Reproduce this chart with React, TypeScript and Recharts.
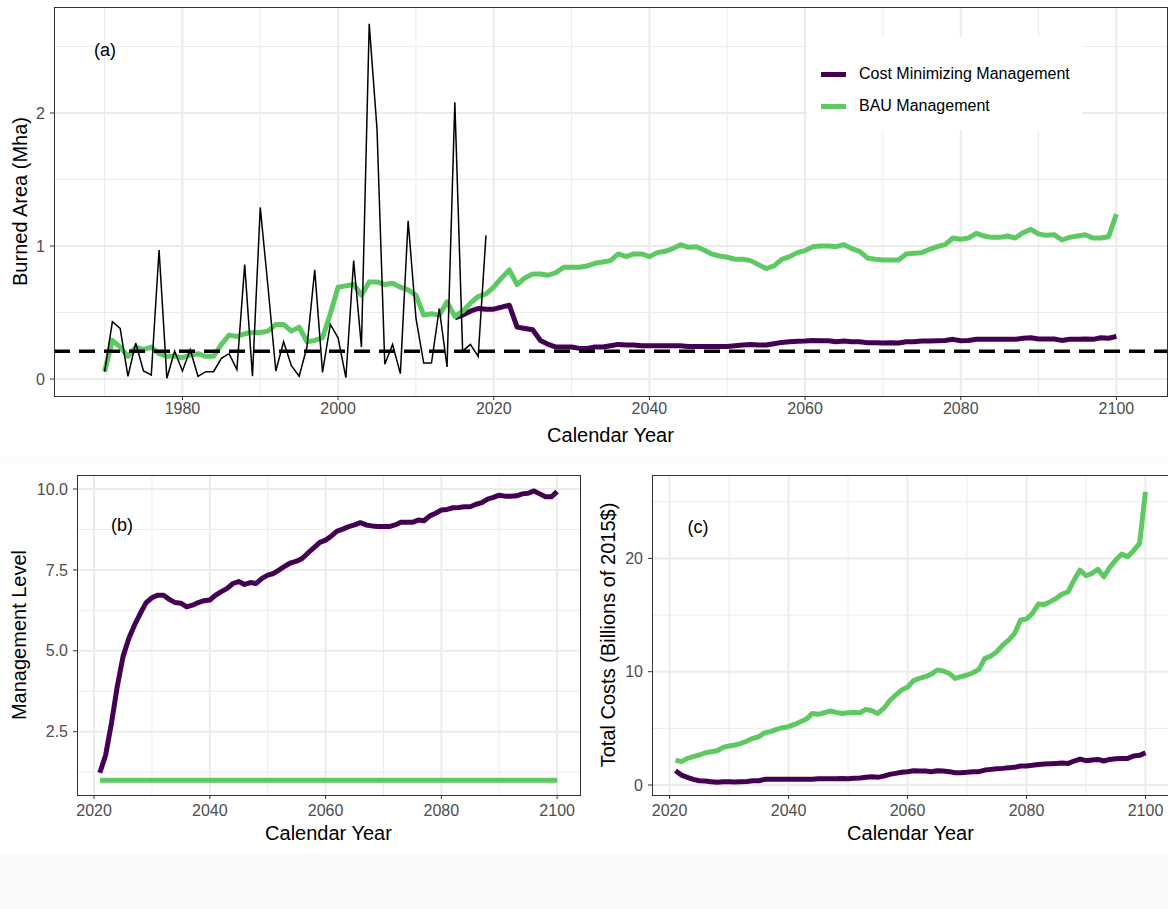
import React from 'react';
import { LineChart, Line, XAxis, YAxis, CartesianGrid, ReferenceLine, Legend, Label } from 'recharts';

const FONT = '"Liberation Sans", Arial, Helvetica, sans-serif';
const PURPLE = '#440154';
const GREEN = '#5ec962';
const GRID = '#ebebeb';
const TICK_COLOR = '#4d4d4d';
const BORDER = '#333333';

const COST_MIN_NAME = 'Cost Minimizing Management';
const BAU_NAME = 'BAU Management';
const legendOrder = [COST_MIN_NAME, BAU_NAME];

// Burned area (Mha): observed record, and the two management scenarios
const observedStart = 1970;
const observedBurned = [
  0.055, 0.43, 0.38, 0.02, 0.27, 0.06, 0.03, 0.97, 0.005, 0.21,
  0.06, 0.22, 0.02, 0.055, 0.055, 0.155, 0.19, 0.07, 0.86, 0.02,
  1.29, 0.69, 0.06, 0.28, 0.1, 0.02, 0.24, 0.82, 0.05, 0.41,
  0.31, 0.01, 0.89, 0.24, 2.67, 1.88, 0.11, 0.26, 0.04, 1.19,
  0.46, 0.12, 0.12, 0.53, 0.09, 2.08, 0.21, 0.26, 0.17, 1.08,
];

const bauStart = 1970;
const bauBurned = [
  0.055, 0.29, 0.24, 0.17, 0.24, 0.22, 0.24, 0.19, 0.17, 0.17,
  0.16, 0.18, 0.19, 0.17, 0.17, 0.26, 0.33, 0.32, 0.34, 0.35,
  0.35, 0.36, 0.41, 0.41, 0.36, 0.39, 0.28, 0.29, 0.31, 0.49,
  0.69, 0.7, 0.71, 0.63, 0.73, 0.73, 0.71, 0.72, 0.69, 0.67,
  0.63, 0.48, 0.49, 0.48, 0.58, 0.47, 0.51, 0.57, 0.62, 0.64,
  0.69, 0.76, 0.82, 0.71, 0.76, 0.79, 0.79, 0.78, 0.8, 0.84,
  0.84, 0.84, 0.85, 0.87, 0.88, 0.89, 0.94, 0.92, 0.94, 0.94,
  0.92, 0.95, 0.96, 0.98, 1.01, 0.99, 0.995, 0.97, 0.94, 0.925,
  0.915, 0.9, 0.9, 0.89, 0.86, 0.83, 0.85, 0.9, 0.92, 0.95,
  0.965, 0.995, 1.0, 1.0, 0.995, 1.01, 0.98, 0.96, 0.91, 0.9,
  0.895, 0.895, 0.895, 0.94, 0.945, 0.95, 0.975, 0.995, 1.01, 1.06,
  1.05, 1.06, 1.095, 1.075, 1.065, 1.065, 1.075, 1.06, 1.1, 1.125,
  1.09, 1.08, 1.085, 1.045, 1.065, 1.075, 1.085, 1.06, 1.06, 1.07,
  1.24,
];

const costMinStart = 2015;
const costMinBurned = [
  0.46, 0.48, 0.51, 0.53, 0.525,
  0.525, 0.54, 0.555, 0.39, 0.38, 0.37, 0.29, 0.26, 0.24, 0.24,
  0.24, 0.23, 0.23, 0.24, 0.24, 0.25, 0.26, 0.255, 0.255, 0.25,
  0.25, 0.25, 0.25, 0.25, 0.25, 0.245, 0.245, 0.245, 0.245, 0.245,
  0.245, 0.25, 0.255, 0.26, 0.255, 0.255, 0.265, 0.275, 0.28, 0.283,
  0.285, 0.29, 0.288, 0.288, 0.28, 0.285, 0.28, 0.28, 0.273, 0.273,
  0.27, 0.273, 0.27, 0.28, 0.28, 0.285, 0.285, 0.288, 0.29, 0.298,
  0.288, 0.29, 0.298, 0.298, 0.298, 0.298, 0.298, 0.298, 0.306, 0.31,
  0.3, 0.3, 0.3, 0.29, 0.298, 0.298, 0.3, 0.298, 0.31, 0.306,
  0.32,
];

const burnedThreshold = 0.208;

// Projections 2021-2100: management level and total costs (billions of 2015$)
const projectionStart = 2021;
const costMinManagement = [
  1.23, 1.78, 2.76, 3.89, 4.82, 5.38, 5.8, 6.16, 6.49,
  6.64, 6.72, 6.72, 6.59, 6.49, 6.47, 6.36, 6.41, 6.49, 6.55,
  6.57, 6.72, 6.83, 6.93, 7.08, 7.14, 7.05, 7.11, 7.08, 7.24,
  7.34, 7.39, 7.5, 7.62, 7.72, 7.77, 7.86, 8.03, 8.19, 8.35,
  8.42, 8.55, 8.7, 8.76, 8.84, 8.89, 8.96, 8.89, 8.86, 8.84,
  8.84, 8.84, 8.89, 8.97, 8.97, 8.97, 9.04, 9.02, 9.17, 9.25,
  9.35, 9.37, 9.42, 9.43, 9.45, 9.45, 9.53, 9.58, 9.69, 9.74,
  9.81, 9.78, 9.78, 9.79, 9.85, 9.87, 9.94, 9.85, 9.76, 9.76,
  9.92,
];
const bauManagement = [
  1, 1, 1, 1, 1, 1, 1, 1, 1,
  1, 1, 1, 1, 1, 1, 1, 1, 1, 1,
  1, 1, 1, 1, 1, 1, 1, 1, 1, 1,
  1, 1, 1, 1, 1, 1, 1, 1, 1, 1,
  1, 1, 1, 1, 1, 1, 1, 1, 1, 1,
  1, 1, 1, 1, 1, 1, 1, 1, 1, 1,
  1, 1, 1, 1, 1, 1, 1, 1, 1, 1,
  1, 1, 1, 1, 1, 1, 1, 1, 1, 1,
  1,
];
const costMinCosts = [
  1.26, 0.88, 0.68, 0.5, 0.38, 0.35, 0.29, 0.24, 0.29,
  0.29, 0.26, 0.29, 0.32, 0.38, 0.38, 0.5, 0.5, 0.5, 0.5,
  0.5, 0.5, 0.5, 0.52, 0.5, 0.55, 0.55, 0.55, 0.55, 0.58,
  0.55, 0.6, 0.62, 0.68, 0.74, 0.68, 0.79, 0.94, 1.03, 1.12,
  1.18, 1.26, 1.24, 1.24, 1.18, 1.26, 1.24, 1.18, 1.09, 1.09,
  1.12, 1.18, 1.18, 1.32, 1.38, 1.44, 1.47, 1.53, 1.56, 1.68,
  1.68, 1.74, 1.82, 1.85, 1.88, 1.91, 1.94, 1.91, 2.12, 2.29,
  2.15, 2.21, 2.26, 2.12, 2.26, 2.32, 2.35, 2.35, 2.56, 2.62,
  2.85,
];
const bauCosts = [
  2.2, 2.06, 2.35, 2.5, 2.65, 2.85, 2.94, 3.03, 3.32,
  3.44, 3.53, 3.68, 3.88, 4.12, 4.26, 4.62, 4.71, 4.91, 5.06,
  5.15, 5.35, 5.59, 5.82, 6.32, 6.24, 6.38, 6.53, 6.41, 6.32,
  6.38, 6.41, 6.38, 6.68, 6.56, 6.32, 6.76, 7.44, 7.94, 8.38,
  8.62, 9.21, 9.41, 9.56, 9.79, 10.15, 10.06, 9.85, 9.41, 9.56,
  9.71, 9.91, 10.21, 11.18, 11.38, 11.76, 12.35, 12.79, 13.38, 14.56,
  14.65, 15.15, 15.97, 15.94, 16.18, 16.47, 16.85, 17.06, 18.09, 18.97,
  18.47, 18.68, 19.03, 18.38, 19.21, 19.85, 20.38, 20.15, 20.68, 21.32,
  25.88,
];

// Axis ticks and gridlines
const burnedYearTicks = [1980, 2000, 2020, 2040, 2060, 2080, 2100];
const burnedYearMinor = [1970, 1990, 2010, 2030, 2050, 2070, 2090];
const burnedTicks = [0, 1, 2];
const burnedMinor = [0.5, 1.5, 2.5];
const projYearTicks = [2020, 2040, 2060, 2080, 2100];
const projYearMinor = [2030, 2050, 2070, 2090];
const managementTicks = [2.5, 5, 7.5, 10];
const managementMinor = [1.25, 3.75, 6.25, 8.75];
const costTicks = [0, 10, 20];
const costMinor = [5, 15, 25];

type Row = { year: number; [key: string]: number | undefined };

function buildRows(series: { key: string; start: number; values: number[] }[]): Row[] {
  const byYear = new Map<number, Row>();
  series.forEach(({ key, start, values }) => {
    values.forEach((v, i) => {
      const year = start + i;
      const row = byYear.get(year) ?? { year };
      row[key] = v;
      byYear.set(year, row);
    });
  });
  return [...byYear.values()].sort((a, b) => a.year - b.year);
}

const burnedRows = buildRows([
  { key: 'observed', start: observedStart, values: observedBurned },
  { key: 'bau', start: bauStart, values: bauBurned },
  { key: 'costMin', start: costMinStart, values: costMinBurned },
]);
const managementRows = buildRows([
  { key: 'costMin', start: projectionStart, values: costMinManagement },
  { key: 'bau', start: projectionStart, values: bauManagement },
]);
const costRows = buildRows([
  { key: 'costMin', start: projectionStart, values: costMinCosts },
  { key: 'bau', start: projectionStart, values: bauCosts },
]);

const tickStyle = { fill: TICK_COLOR, fontSize: 16, fontFamily: FONT };
const titleStyle = { fill: '#000', fontSize: 20, fontFamily: FONT };

function Frame({ left, top, width, height }: { left: number; top: number; width: number; height: number }) {
  return (
    <div
      style={{
        position: 'absolute',
        left: left - 0.5,
        top: top - 0.5,
        width: width + 1,
        height: height + 1,
        border: `1px solid ${BORDER}`,
        boxSizing: 'border-box',
        pointerEvents: 'none',
      }}
    />
  );
}

function Tag({ x, y, text }: { x: number; y: number; text: string }) {
  return (
    <div
      style={{
        position: 'absolute',
        left: x,
        top: y,
        transform: 'translate(-50%, -50%)',
        fontFamily: FONT,
        fontSize: 18,
        lineHeight: 1,
        color: '#000',
        whiteSpace: 'nowrap',
      }}
    >
      {text}
    </div>
  );
}

function LegendBox(props: any) {
  const items = (props.payload || [])
    .filter((p: any) => p.type !== 'none')
    .slice()
    .sort((a: any, b: any) => legendOrder.indexOf(a.value) - legendOrder.indexOf(b.value));
  return (
    <div style={{ paddingTop: 21, fontFamily: FONT }}>
      {items.map((item: any) => (
        <div key={item.value} style={{ display: 'flex', alignItems: 'center', height: 32 }}>
          <span
            style={{
              display: 'inline-block',
              width: 25,
              height: 5,
              background: item.color,
              marginLeft: 14,
              marginRight: 13,
            }}
          />
          <span style={{ fontSize: 16, color: '#000' }}>{item.value}</span>
        </div>
      ))}
    </div>
  );
}

function BurnedPanel() {
  return (
    <div style={{ position: 'absolute', left: 0, top: 0 }}>
      <LineChart width={1168} height={450} data={burnedRows} margin={{ top: 7, right: 1, bottom: 8, left: 0 }}>
        <CartesianGrid stroke={GRID} strokeWidth={1} horizontalValues={burnedMinor} verticalValues={burnedYearMinor} />
        <CartesianGrid stroke={GRID} strokeWidth={2} horizontalValues={burnedTicks} verticalValues={burnedYearTicks} />
        <XAxis
          type="number"
          dataKey="year"
          domain={[1963.5, 2106.5]}
          ticks={burnedYearTicks}
          interval={0}
          allowDataOverflow
          axisLine={false}
          tickLine={{ stroke: BORDER }}
          tickSize={4}
          tickMargin={3}
          tick={tickStyle}
          height={46}
        >
          <Label value="Calendar Year" position="insideBottom" offset={0} style={titleStyle} />
        </XAxis>
        <YAxis
          type="number"
          domain={[-0.128, 2.797]}
          ticks={burnedTicks}
          interval={0}
          allowDataOverflow
          axisLine={false}
          tickLine={{ stroke: BORDER }}
          tickSize={4}
          tickMargin={5}
          tick={tickStyle}
          width={54}
        >
          <Label
            value="Burned Area (Mha)"
            angle={-90}
            position="insideLeft"
            offset={20}
            style={{ ...titleStyle, textAnchor: 'middle' }}
          />
        </YAxis>
        <Line
          type="linear"
          dataKey="costMin"
          name={COST_MIN_NAME}
          stroke={PURPLE}
          strokeWidth={5}
          strokeLinejoin="round"
          dot={false}
          activeDot={false}
          isAnimationActive={false}
        />
        <Line
          type="linear"
          dataKey="bau"
          name={BAU_NAME}
          stroke={GREEN}
          strokeWidth={5}
          strokeLinejoin="round"
          dot={false}
          activeDot={false}
          isAnimationActive={false}
        />
        <Line
          type="linear"
          dataKey="observed"
          name="Observed"
          stroke="#000"
          strokeWidth={1.5}
          dot={false}
          activeDot={false}
          legendType="none"
          isAnimationActive={false}
        />
        <ReferenceLine y={burnedThreshold} stroke="#000" strokeWidth={3.5} strokeDasharray="16 9" />
        <Legend
          layout="vertical"
          align="center"
          verticalAlign="middle"
          wrapperStyle={{ left: 807, top: 37, width: 276, height: 93, background: '#fff' }}
          content={(p: any) => <LegendBox payload={p.payload} />}
        />
      </LineChart>
      <Frame left={54} top={7} width={1113} height={389} />
      <Tag x={105} y={50} text="(a)" />
    </div>
  );
}

function ManagementPanel() {
  return (
    <div style={{ position: 'absolute', left: 0, top: 465 }}>
      <LineChart width={590} height={390} data={managementRows} margin={{ top: 10, right: 10, bottom: 15, left: 0 }}>
        <CartesianGrid stroke={GRID} strokeWidth={1} horizontalValues={managementMinor} verticalValues={projYearMinor} />
        <CartesianGrid stroke={GRID} strokeWidth={2} horizontalValues={managementTicks} verticalValues={projYearTicks} />
        <XAxis
          type="number"
          dataKey="year"
          domain={[2017.05, 2103.95]}
          ticks={projYearTicks}
          interval={0}
          allowDataOverflow
          axisLine={false}
          tickLine={{ stroke: BORDER }}
          tickSize={4}
          tickMargin={6}
          tick={tickStyle}
          height={45}
        >
          <Label value="Calendar Year" position="insideBottom" offset={0} style={titleStyle} />
        </XAxis>
        <YAxis
          type="number"
          domain={[0.544, 10.433]}
          ticks={managementTicks}
          interval={0}
          allowDataOverflow
          axisLine={false}
          tickLine={{ stroke: BORDER }}
          tickSize={4}
          tickMargin={5}
          tick={tickStyle}
          tickFormatter={(v: number) => v.toFixed(1)}
          width={77}
        >
          <Label
            value="Management Level"
            angle={-90}
            position="insideLeft"
            offset={19}
            style={{ ...titleStyle, textAnchor: 'middle' }}
          />
        </YAxis>
        <Line
          type="linear"
          dataKey="costMin"
          name={COST_MIN_NAME}
          stroke={PURPLE}
          strokeWidth={5}
          strokeLinejoin="round"
          dot={false}
          activeDot={false}
          isAnimationActive={false}
        />
        <Line
          type="linear"
          dataKey="bau"
          name={BAU_NAME}
          stroke={GREEN}
          strokeWidth={5}
          strokeLinejoin="round"
          dot={false}
          activeDot={false}
          isAnimationActive={false}
        />
      </LineChart>
      <Frame left={77} top={10} width={503} height={320} />
      <Tag x={122} y={60} text="(b)" />
    </div>
  );
}

function CostPanel() {
  return (
    <div style={{ position: 'absolute', left: 590, top: 465 }}>
      <LineChart width={580} height={390} data={costRows} margin={{ top: 10, right: 1, bottom: 15, left: 0 }}>
        <CartesianGrid stroke={GRID} strokeWidth={1} horizontalValues={costMinor} verticalValues={projYearMinor} />
        <CartesianGrid stroke={GRID} strokeWidth={2} horizontalValues={costTicks} verticalValues={projYearTicks} />
        <XAxis
          type="number"
          dataKey="year"
          domain={[2017.05, 2103.95]}
          ticks={projYearTicks}
          interval={0}
          allowDataOverflow
          axisLine={false}
          tickLine={{ stroke: BORDER }}
          tickSize={4}
          tickMargin={6}
          tick={tickStyle}
          height={45}
        >
          <Label value="Calendar Year" position="insideBottom" offset={0} style={titleStyle} />
        </XAxis>
        <YAxis
          type="number"
          domain={[-0.88, 27.36]}
          ticks={costTicks}
          interval={0}
          allowDataOverflow
          axisLine={false}
          tickLine={{ stroke: BORDER }}
          tickSize={4}
          tickMargin={5}
          tick={tickStyle}
          width={62}
        >
          <Label
            value="Total Costs (Billions of 2015$)"
            angle={-90}
            position="insideLeft"
            offset={18}
            style={{ ...titleStyle, textAnchor: 'middle' }}
          />
        </YAxis>
        <Line
          type="linear"
          dataKey="costMin"
          name={COST_MIN_NAME}
          stroke={PURPLE}
          strokeWidth={5}
          strokeLinejoin="round"
          dot={false}
          activeDot={false}
          isAnimationActive={false}
        />
        <Line
          type="linear"
          dataKey="bau"
          name={BAU_NAME}
          stroke={GREEN}
          strokeWidth={5}
          strokeLinejoin="round"
          dot={false}
          activeDot={false}
          isAnimationActive={false}
        />
      </LineChart>
      <Frame left={62} top={10} width={517} height={320} />
      <Tag x={108} y={62} text="(c)" />
    </div>
  );
}

export default function App() {
  return (
    <div
      style={{
        position: 'absolute',
        left: 0,
        top: 0,
        width: 1168,
        height: 909,
        overflow: 'hidden',
        background: '#fff',
        fontFamily: FONT,
      }}
    >
      <div style={{ position: 'absolute', left: 0, top: 456, width: 1168, height: 7, background: '#fcfcfc' }} />
      <div style={{ position: 'absolute', left: 0, top: 854, width: 1168, height: 55, background: '#f9f9f9' }} />
      <BurnedPanel />
      <ManagementPanel />
      <CostPanel />
    </div>
  );
}
